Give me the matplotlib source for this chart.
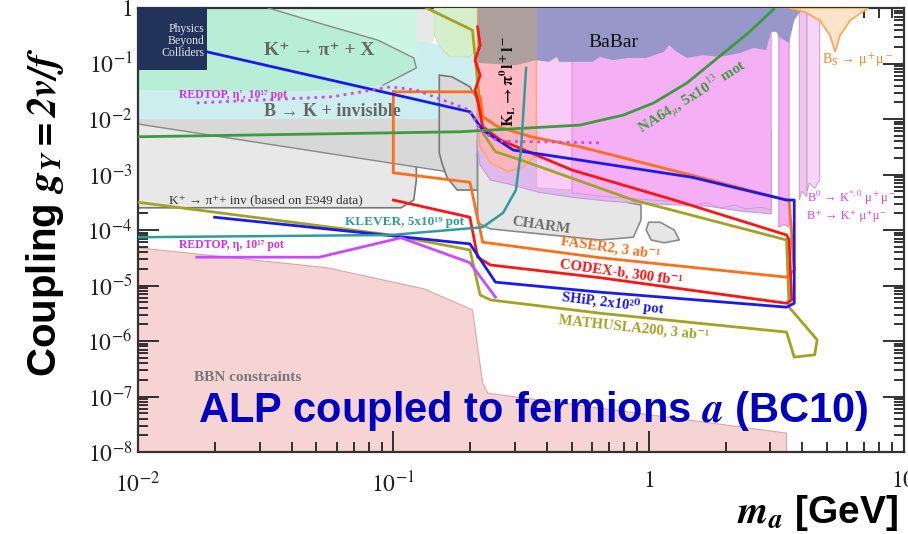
import numpy as np
import matplotlib
matplotlib.use('Agg')
import matplotlib.pyplot as plt
from matplotlib.ticker import FixedLocator, FixedFormatter, LogLocator, NullFormatter

plt.rcParams['mathtext.fontset'] = 'stix'
plt.rcParams['font.family'] = ['Liberation Serif', 'DejaVu Serif']

# all curves: log10(m_a / GeV) and log10(g_Y)
bbn_m = [-2.00, -1.26, -0.88, -0.69, -0.65, -0.63, 0.54, 0.54]
bbn_g = [-4.32, -4.68, -5.06, -5.44, -6.76, -6.94, -7.66, -8.00]

e949_m = [-2.00, -0.84, -0.84, -0.91, -0.91, -0.92, -0.97, -2.00]
e949_g = [0.00, 0.00, -0.58, -0.94, -3.10, -3.46, -3.60, -3.60]

bkinv_m = [-2.00, -0.91, -0.91, -0.82, -0.67, -0.67, -2.00]
bkinv_g = [0.00, 0.00, -0.58, -0.67, -0.88, -2.00, -2.00]

kpix_m = [-2.00, -1.49, -1.33, -1.06, -0.92, -0.91, -1.04, -1.37, -2.00]
kpix_g = [0.00, 0.00, -0.22, -0.58, -0.90, -1.08, -1.39, -1.51, -1.48]

kpix_top_m = [-1.49, -0.91, -0.91, -0.92, -1.06, -1.33]
kpix_top_g = [0.00, 0.00, -0.94, -0.90, -0.58, -0.22]

hexa_m = [-0.84, -0.66, -0.66, -0.70, -0.78, -0.82, -0.84]
hexa_g = [0.00, 0.00, -0.67, -0.88, -0.88, -0.67, -0.49]

band_m = [-2.00, -0.67, -0.67, -0.79, -2.00]
band_g = [-2.00, -2.00, -3.01, -2.95, -2.09]

gbox_m = [-0.82, -0.77, -0.70, -0.67, -0.67, -0.75, -0.79, -0.81, -0.82]
gbox_g = [-1.21, -1.24, -1.42, -1.66, -3.28, -3.28, -3.05, -2.79, -2.61]

charm_m = [-0.67, -0.43, -0.03, -0.03, -0.06, -0.19, -0.62, -0.67]
charm_g = [-2.38, -3.19, -3.55, -3.82, -4.13, -4.18, -3.98, -3.87]

charm2_m = [0.00, 0.045, 0.10, 0.12, 0.06, 0.01, -0.01]
charm2_g = [-3.86, -3.86, -4.00, -4.18, -4.23, -4.18, -4.00]

kl_m = [-0.67, -0.44, -0.44, -0.49, -0.55, -0.62, -0.66, -0.67]
kl_g = [0.00, 0.00, -2.65, -2.86, -2.95, -2.79, -2.50, -2.02]

lav_m = [-0.67, 0.48, 0.48, 0.36, 0.23, 0.01, -0.16, -0.30, -0.43, -0.55, -0.62, -0.66, -0.67]
lav_g = [-2.20, -2.20, -3.71, -3.66, -3.57, -3.53, -3.48, -3.41, -3.32, -3.17, -3.10, -2.83, -2.56]

lmag_m = [-0.44, -0.30, -0.30, -0.44]
lmag_g = [0.00, 0.00, -3.28, -3.24]

mag_m = [-0.30, 0.48, 0.48, 0.44, 0.38, 0.34, 0.28, 0.23, 0.16, 0.08, 0.01, -0.19, -0.30]
mag_g = [0.00, 0.00, -3.64, -3.59, -3.62, -3.55, -3.60, -3.51, -3.55, -3.48, -3.46, -3.39, -3.33]

strip1_m = [0.51, 0.55, 0.55, 0.53, 0.51]
strip1_g = [0.00, 0.00, -3.95, -3.90, -3.95]
strip2_m = [0.59, 0.62, 0.62, 0.60, 0.59]
strip2_g = [0.00, 0.00, -3.40, -3.30, -3.46]
strip3_m = [0.62, 0.67, 0.67, 0.65, 0.63, 0.62]
strip3_g = [0.00, 0.00, -3.10, -3.25, -3.15, -3.30]

brown_m = [-0.67, -0.44, -0.44, -0.52, -0.67]
brown_g = [0.00, 0.00, -0.94, -1.03, -0.99]

babar_m = [-0.44, 0.61, 0.61, 0.59, 0.57, 0.55, 0.51, 0.50, 0.48, 0.46, 0.41, 0.36, 0.28, 0.21,
           0.15, 0.11, 0.08, 0.06, -0.01, -0.08, -0.14, -0.19, -0.22, -0.35, -0.36, -0.39, -0.44]
babar_g = [0.00, 0.00, 0.00, -0.09, -0.22, -0.63, -0.52, -0.43, -0.43, -0.76, -0.72, -0.81, -0.88, -0.85,
           -0.90, -0.79, -0.67, -0.79, -0.90, -0.90, -0.94, -0.88, -0.97, -0.97, -0.88, -0.97, -0.94]

bs_m = [0.55, 0.61, 0.67, 0.71, 0.73, 0.75, 0.79, 0.86]
bs_g = [0.00, -0.07, -0.22, -0.49, -0.79, -0.49, -0.22, 0.00]

mathusla_m = [-0.87, -0.69, -0.65, -0.60, -0.50, -0.06, 0.54, 0.55, 0.66, 0.65, 0.57, 0.54,
              -0.19, -0.62, -0.66, -0.70, -1.01, -2.00]
mathusla_g = [0.00, -0.40, -2.25, -2.59, -2.74, -3.46, -4.18, -5.39, -5.98, -6.25, -6.29, -5.84,
              -5.50, -5.26, -5.17, -4.36, -4.09, -3.50]

faser2_m = [-1.00, -0.69, -0.66, -0.65, -0.59, -0.46, -0.27, 0.20, 0.54, 0.55, 0.57, 0.54,
            -0.19, -0.65, -0.70, -1.00, -1.00]
faser2_g = [-1.51, -1.51, -1.60, -1.96, -2.14, -2.32, -2.50, -3.05, -3.46, -3.46, -4.72, -4.85,
            -4.50, -4.22, -3.14, -2.97, -1.51]

codexb_m = [-0.67, -0.66, -0.68, -0.66, -0.68, -0.67, -0.65, -0.58, -0.30, 0.10, 0.54, 0.55,
            0.56, 0.54, -0.19, -0.62, -0.67, -0.70, -1.00]
codexb_g = [-0.34, -0.67, -0.94, -1.21, -1.48, -1.66, -2.14, -2.38, -2.92, -3.46, -4.09, -4.18,
            -5.26, -5.32, -4.86, -4.63, -4.49, -3.77, -3.46]

ship_m = [-1.73, -0.70, -0.65, -0.53, -0.27, 0.17, 0.54, 0.57, 0.57, 0.54, -0.19, -0.60, -0.70, -1.70]
ship_g = [-0.79, -1.87, -2.20, -2.56, -2.74, -3.05, -3.46, -3.46, -5.32, -5.39, -5.12, -4.94, -4.25, -3.77]

na64_m = [-2.00, -0.74, -0.27, -0.10, 0.02, 0.15, 0.27, 0.39, 0.49]
na64_g = [-2.32, -2.23, -2.11, -1.93, -1.71, -1.35, -0.90, -0.45, -0.02]

redtop_etap_m = [-1.77, -1.24, -1.01, -0.91, -0.70, -0.66, -0.59, -0.18]
redtop_etap_g = [-1.71, -1.60, -1.42, -1.48, -1.84, -2.20, -2.40, -2.43]

redtop_eta_m = [-1.77, -1.29, -0.97, -0.70, -0.60]
redtop_eta_g = [-4.49, -4.49, -4.14, -4.59, -5.21]

klever_m = [-2.00, -1.01, -0.65, -0.57, -0.52, -0.50, -0.48]
klever_g = [-4.13, -4.09, -3.95, -3.69, -3.28, -2.56, -1.08]

e949_line_m = [-2.00, -0.79]
e949_line_g = [-2.09, -2.95]

xtick_vals = [1e-2, 1e-1, 1, 10]
xtick_labels = ['$10^{-2}$', '$10^{-1}$', '$1$', '$10$']
ytick_vals = [1e-8, 1e-7, 1e-6, 1e-5, 1e-4, 1e-3, 1e-2, 1e-1, 1]
ytick_labels = ['$10^{-8}$', '$10^{-7}$', '$10^{-6}$', '$10^{-5}$', '$10^{-4}$',
                '$10^{-3}$', '$10^{-2}$', '$10^{-1}$', '$1$']


def P(m, g):
    return 10 ** np.array(m), 10 ** np.array(g)


fig = plt.figure(figsize=(9.08, 5.34), dpi=100)
ax = fig.add_axes([138 / 908, 1 - 452 / 534, 766 / 908, 444 / 534])
ax.set_xscale('log')
ax.set_yscale('log')
ax.set_xlim(1e-2, 10)
ax.set_ylim(1e-8, 1)

# filled regions
ax.fill(*P(bbn_m + [-2.00], bbn_g + [-8.00]), fc='#f7d4d4', ec='#d9a8a8', lw=0.8, zorder=1)
ax.fill(*P(e949_m, e949_g), fc='#e8e8e8', ec='none', zorder=2)
ax.plot(*P(e949_m[3:], e949_g[3:]), color='#777777', lw=1.2, zorder=2.1)
ax.fill(*P(band_m, band_g), fc='#d8d8d8', ec='none', zorder=2.2)
ax.plot(*P(e949_line_m, e949_line_g), color='#888888', lw=1.0, zorder=2.3)
ax.fill(*P(bkinv_m, bkinv_g), fc='#cdeeee', ec='none', zorder=2.4)
ax.fill(*P(kpix_m, kpix_g), fc='#b9eed6', ec='none', zorder=2.5)
ax.fill(*P(kpix_top_m, kpix_top_g), fc='#cdf5e4', ec='none', zorder=2.5)
ax.plot(*P(kpix_m[1:7], kpix_g[1:7]), color='#888888', lw=1.0, zorder=2.6)
ax.fill(*P(hexa_m, hexa_g), fc='#d5efcb', ec='#c5dfbb', lw=0.6, zorder=2.6)
ax.fill(*P(gbox_m, gbox_g), fc='#d9d9d9', ec='#777777', lw=1.2, zorder=2.7)
ax.fill(*P(charm_m, charm_g), fc='#e6e6e6', ec='#8a8a8a', lw=1.2, zorder=2.8)
ax.fill(*P(charm2_m, charm2_g), fc='#e6e6e6', ec='#8a8a8a', lw=1.2, zorder=2.8)

ax.fill(*P(lav_m, lav_g), fc='#dfb9ec', ec='#c99ad9', lw=0.8, zorder=3)
ax.fill(*P(lmag_m, lmag_g), fc='#f9cbf9', ec='#e0a8e0', lw=0.6, zorder=3.1)
ax.fill(*P(mag_m, mag_g), fc='#f5b0f5', ec='#d890d8', lw=0.6, zorder=3.1)
ax.fill(*P(strip1_m, strip1_g), fc='#f5b0f5', ec='#cc88cc', lw=0.7, zorder=3.1)
ax.fill(*P(strip2_m, strip2_g), fc='#efc4ef', ec='#cc99cc', lw=0.7, zorder=3.1)
ax.fill(*P(strip3_m, strip3_g), fc='#f6d6f6', ec='#cc99cc', lw=0.7, zorder=3.1)
ax.fill(*P(kl_m, kl_g), fc='#ffb3bd', ec='#ffa550', lw=1.0, alpha=0.9, zorder=3.2)
ax.fill(*P(brown_m, brown_g), fc='#ad9f9c', ec='none', zorder=3.3)
ax.fill(*P(babar_m, babar_g), fc='#9797c9', ec='none', zorder=3.3)
ax.fill(*P(bs_m, bs_g), fc='#fde3c8', ec='#ffa550', lw=1.2, zorder=3.3)

# projected sensitivity lines
ax.plot(*P(mathusla_m, mathusla_g), color='#a3a323', lw=2, zorder=5)
ax.plot(*P(faser2_m, faser2_g), color='#ff6f1a', lw=2, zorder=5)
ax.plot(*P(codexb_m, codexb_g), color='#ff1414', lw=2, zorder=5)
ax.plot(*P(ship_m, ship_g), color='#1a1aee', lw=2, zorder=5)
ax.plot(*P(na64_m, na64_g), color='#3c9c3c', lw=2, zorder=5)
ax.plot(*P(redtop_etap_m, redtop_etap_g), color='#c94be8', lw=2, ls=':', zorder=5)
ax.plot(*P(redtop_eta_m, redtop_eta_g), color='#c94bff', lw=2, zorder=5)
ax.plot(*P(klever_m, klever_g), color='#2f9c9c', lw=1.8, zorder=5)

# labels
tk = dict(zorder=6, fontweight='bold')
ax.text(10**-1.29, 10**-0.76, 'K⁺ → π⁺ + X', color='#666666', fontsize=14, ha='center', va='center', **tk)
ax.text(10**-1.24, 10**-1.86, 'B → K + invisible', color='#666666', fontsize=13, ha='center', va='center', **tk)
ax.text(10**-1.50, 10**-3.46, 'K⁺ → π⁺+ inv (based on E949 data)', color='#333333', fontsize=9.5,
        ha='center', va='center', zorder=6)
ax.text(10**-1.84, 10**-1.57, "REDTOP, η', 10¹⁷ pot", color='#cc33ee', fontsize=8.5, ha='left', va='center', **tk)
ax.text(10**-1.84, 10**-4.27, 'REDTOP, η, 10¹⁷ pot', color='#cc33ee', fontsize=8.5, ha='left', va='center', **tk)
ax.text(10**-1.19, 10**-3.86, 'KLEVER, 5x10¹⁹ pot', color='#2f9c9c', fontsize=9.5, ha='left', va='center', **tk)
ax.text(10**-0.42, 10**-3.93, 'CHARM', color='#6e6e6e', fontsize=11, rotation=-8, ha='center', va='center', **tk)
ax.text(10**-0.15, 10**-4.32, 'FASER2, 3 ab⁻¹', color='#ff6f1a', fontsize=10.5, rotation=-8, ha='center', va='center', **tk)
ax.text(10**-0.11, 10**-4.76, 'CODEX-b, 300 fb⁻¹', color='#ff1414', fontsize=10.5, rotation=-8, ha='center', va='center', **tk)
ax.text(10**-0.14, 10**-5.32, 'SHiP, 2x10²⁰ pot', color='#1a1aee', fontsize=10.5, rotation=-7, ha='center', va='center', **tk)
ax.text(10**-0.06, 10**-5.77, 'MATHUSLA200, 3 ab⁻¹', color='#a3a323', fontsize=10.5, rotation=-6, ha='center', va='center', **tk)
ax.text(10**-1.57, 10**-6.65, 'BBN constraints', color='#777777', fontsize=11, ha='center', va='center', **tk)
ax.text(10**-0.14, 10**-0.63, 'BaBar', color='#111111', fontsize=14, ha='center', va='center', zorder=6)
ax.text(10**-0.55, 10**-1.32, r'$\mathbf{K_L \rightarrow \pi^0 l^+ l^-}$', color='#111111', fontsize=11.5,
        rotation=90, ha='center', va='center', zorder=6)
ax.text(10**0.17, 10**-1.60, r'NA64$_{\mu}$, 5x10$^{13}$ mot', color='#3c9c3c', fontsize=11,
        rotation=32, ha='center', va='center', **tk)
ax.text(10**0.82, 10**-0.95, r'B$_\mathrm{S}$ → μ$^+$μ$^-$', color='#ff8020', fontsize=10, ha='center', va='center', zorder=6)
ax.text(10**0.62, 10**-3.42, r'B$^0$ → K$^{*,0}$ μ$^+$μ$^-$', color='#e040e0', fontsize=9, ha='left', va='center', zorder=6)
ax.text(10**0.62, 10**-3.75, 'B⁺ → K⁺ μ⁺μ⁻', color='#e040e0', fontsize=9, ha='left', va='center', zorder=6)
ax.text(10**-0.45, 10**-7.26, r'ALP coupled to fermions $\mathbfit{a}$ (BC10)', color='#0000c0', fontsize=30,
        fontweight='bold', family=['Liberation Sans', 'DejaVu Sans'], ha='center', va='center', zorder=7)

# logo
ax.add_patch(plt.Rectangle((0, 0.86), 0.09, 0.14, transform=ax.transAxes, fc='#22335a', ec='none', zorder=8))
ax.text(0.087, 0.925, 'Physics\nBeyond\nColliders', transform=ax.transAxes, color='#dde6f5', fontsize=8.5,
        ha='right', va='center', linespacing=1.0, zorder=9)

# axes styling
ax.xaxis.set_major_locator(FixedLocator(xtick_vals))
ax.xaxis.set_major_formatter(FixedFormatter(xtick_labels))
ax.yaxis.set_major_locator(FixedLocator(ytick_vals))
ax.yaxis.set_major_formatter(FixedFormatter(ytick_labels))
ax.xaxis.set_minor_locator(LogLocator(base=10, subs=np.arange(2, 10)))
ax.yaxis.set_minor_locator(LogLocator(base=10, subs=np.arange(2, 10)))
ax.xaxis.set_minor_formatter(NullFormatter())
ax.yaxis.set_minor_formatter(NullFormatter())
ax.tick_params(which='both', direction='in', top=True, right=True, colors='#222222', width=1.3)
ax.tick_params(which='major', length=15, labelsize=17)
ax.tick_params(which='minor', length=7)
ax.tick_params(axis='x', pad=14)
ax.tick_params(axis='y', pad=4)
for s in ax.spines.values():
    s.set_linewidth(1.6)
    s.set_color('#333333')

fig.text(45 / 908, 1 - 212 / 534, r'Coupling $\mathbfit{g_Y = 2v/f}$', rotation=90, fontsize=29,
         fontweight='bold', family=['Liberation Sans', 'DejaVu Sans'], ha='center', va='center')
fig.text(818 / 908, 1 - 513 / 534, r'$\mathbfit{m_a}$ [GeV]', fontsize=28, fontweight='bold',
         family=['Liberation Sans', 'DejaVu Sans'], ha='center', va='center')

fig.savefig('out.png', dpi=100)
